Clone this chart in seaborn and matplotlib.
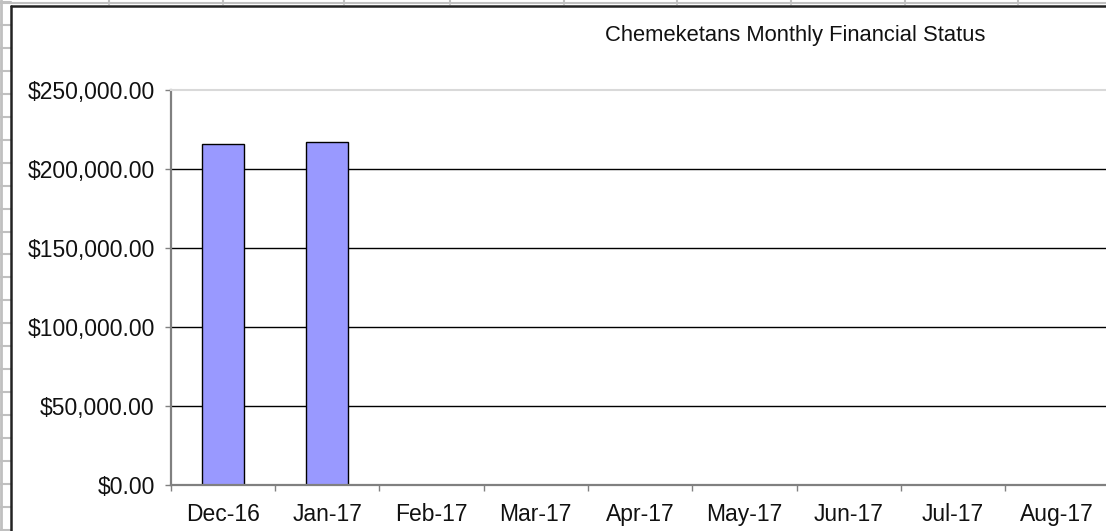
import matplotlib
matplotlib.use("Agg")
import matplotlib.pyplot as plt
import matplotlib.ticker as mticker
from matplotlib.lines import Line2D
import numpy as np
import pandas as pd
import seaborn as sns

# Monthly data (only two months reported so far)
months = ['Dec-16', 'Jan-17', 'Feb-17', 'Mar-17', 'Apr-17', 'May-17', 'Jun-17', 'Jul-17', 'Aug-17']
reported_months = ['Dec-16', 'Jan-17']
balances = [215600.00, 216900.00]
y_ticks = [0, 50000, 100000, 150000, 200000, 250000]
title = 'Chemeketans Monthly Financial Status'

df = pd.DataFrame({'month': reported_months, 'balance': balances})

sns.set_style('white')
plt.rcParams['font.family'] = ['Liberation Sans', 'DejaVu Sans']

fig = plt.figure(figsize=(11.06, 5.31), dpi=100)
W, H = 1106, 531

# spreadsheet cell grid behind the chart
for x in [109, 223, 344, 450, 564, 677, 791, 905, 1018]:
    fig.add_artist(Line2D([x / W, x / W], [1 - 0 / H, 1 - 4 / H], color='#c0c0c0', lw=1.5))
fig.add_artist(Line2D([0, 1], [1 - 3 / H, 1 - 3 / H], color='#c0c0c0', lw=1.5))
fig.add_artist(Line2D([1 / W, 1 / W], [0, 1], color='#c0c0c0', lw=2))
for k in range(24):
    yy = 2.1 + 22.94 * k
    fig.add_artist(Line2D([0, 11 / W], [1 - yy / H, 1 - yy / H], color='#c0c0c0', lw=1.5))
# chart area border
fig.add_artist(Line2D([11 / W, 11 / W], [0, 1 - 5.5 / H], color='#222222', lw=1.8))
fig.add_artist(Line2D([11 / W, 1], [1 - 5.5 / H, 1 - 5.5 / H], color='#222222', lw=1.8))

ax = fig.add_axes([170.7 / W, 46 / H, 938.7 / W, 395 / H])
sns.barplot(data=df, x='month', y='balance', order=months, color='#9999FF',
            edgecolor='black', linewidth=1, width=0.4, saturation=1, ax=ax)

ax.set_xlim(-0.5, len(months) - 0.5)
ax.set_ylim(0, 250000)
ax.set_yticks(y_ticks)
ax.yaxis.set_major_formatter(mticker.StrMethodFormatter('${x:,.2f}'))
ax.set_xlabel('')
ax.set_ylabel('')

ax.yaxis.grid(True, color='black', lw=1)
ax.get_ygridlines()[-1].set_visible(False)
ax.set_axisbelow(True)

for side in ['left', 'bottom']:
    ax.spines[side].set_color('#808080')
    ax.spines[side].set_linewidth(1.6)
ax.spines['top'].set_color('#d9d9d9')
ax.spines['top'].set_linewidth(1.5)
ax.spines['right'].set_visible(False)

ax.tick_params(axis='y', which='major', direction='out', length=4.5, width=1,
               color='#808080', pad=7, labelsize=16.5, labelcolor='#111111', left=True)
ax.set_xticks(np.arange(len(months)))
ax.set_xticklabels(months)
ax.set_xticks(np.arange(len(months) + 1) - 0.5, minor=True)
ax.tick_params(axis='x', which='major', length=0, pad=13, labelsize=16.5, labelcolor='#111111')
ax.tick_params(axis='x', which='minor', direction='out', length=4.5, width=1,
               color='#808080', bottom=True)

fig.text(795 / W, 1 - 40.7 / H, title, ha='center', va='baseline', fontsize=15.8, color='#111111')

fig.savefig('out.png', dpi=100)
